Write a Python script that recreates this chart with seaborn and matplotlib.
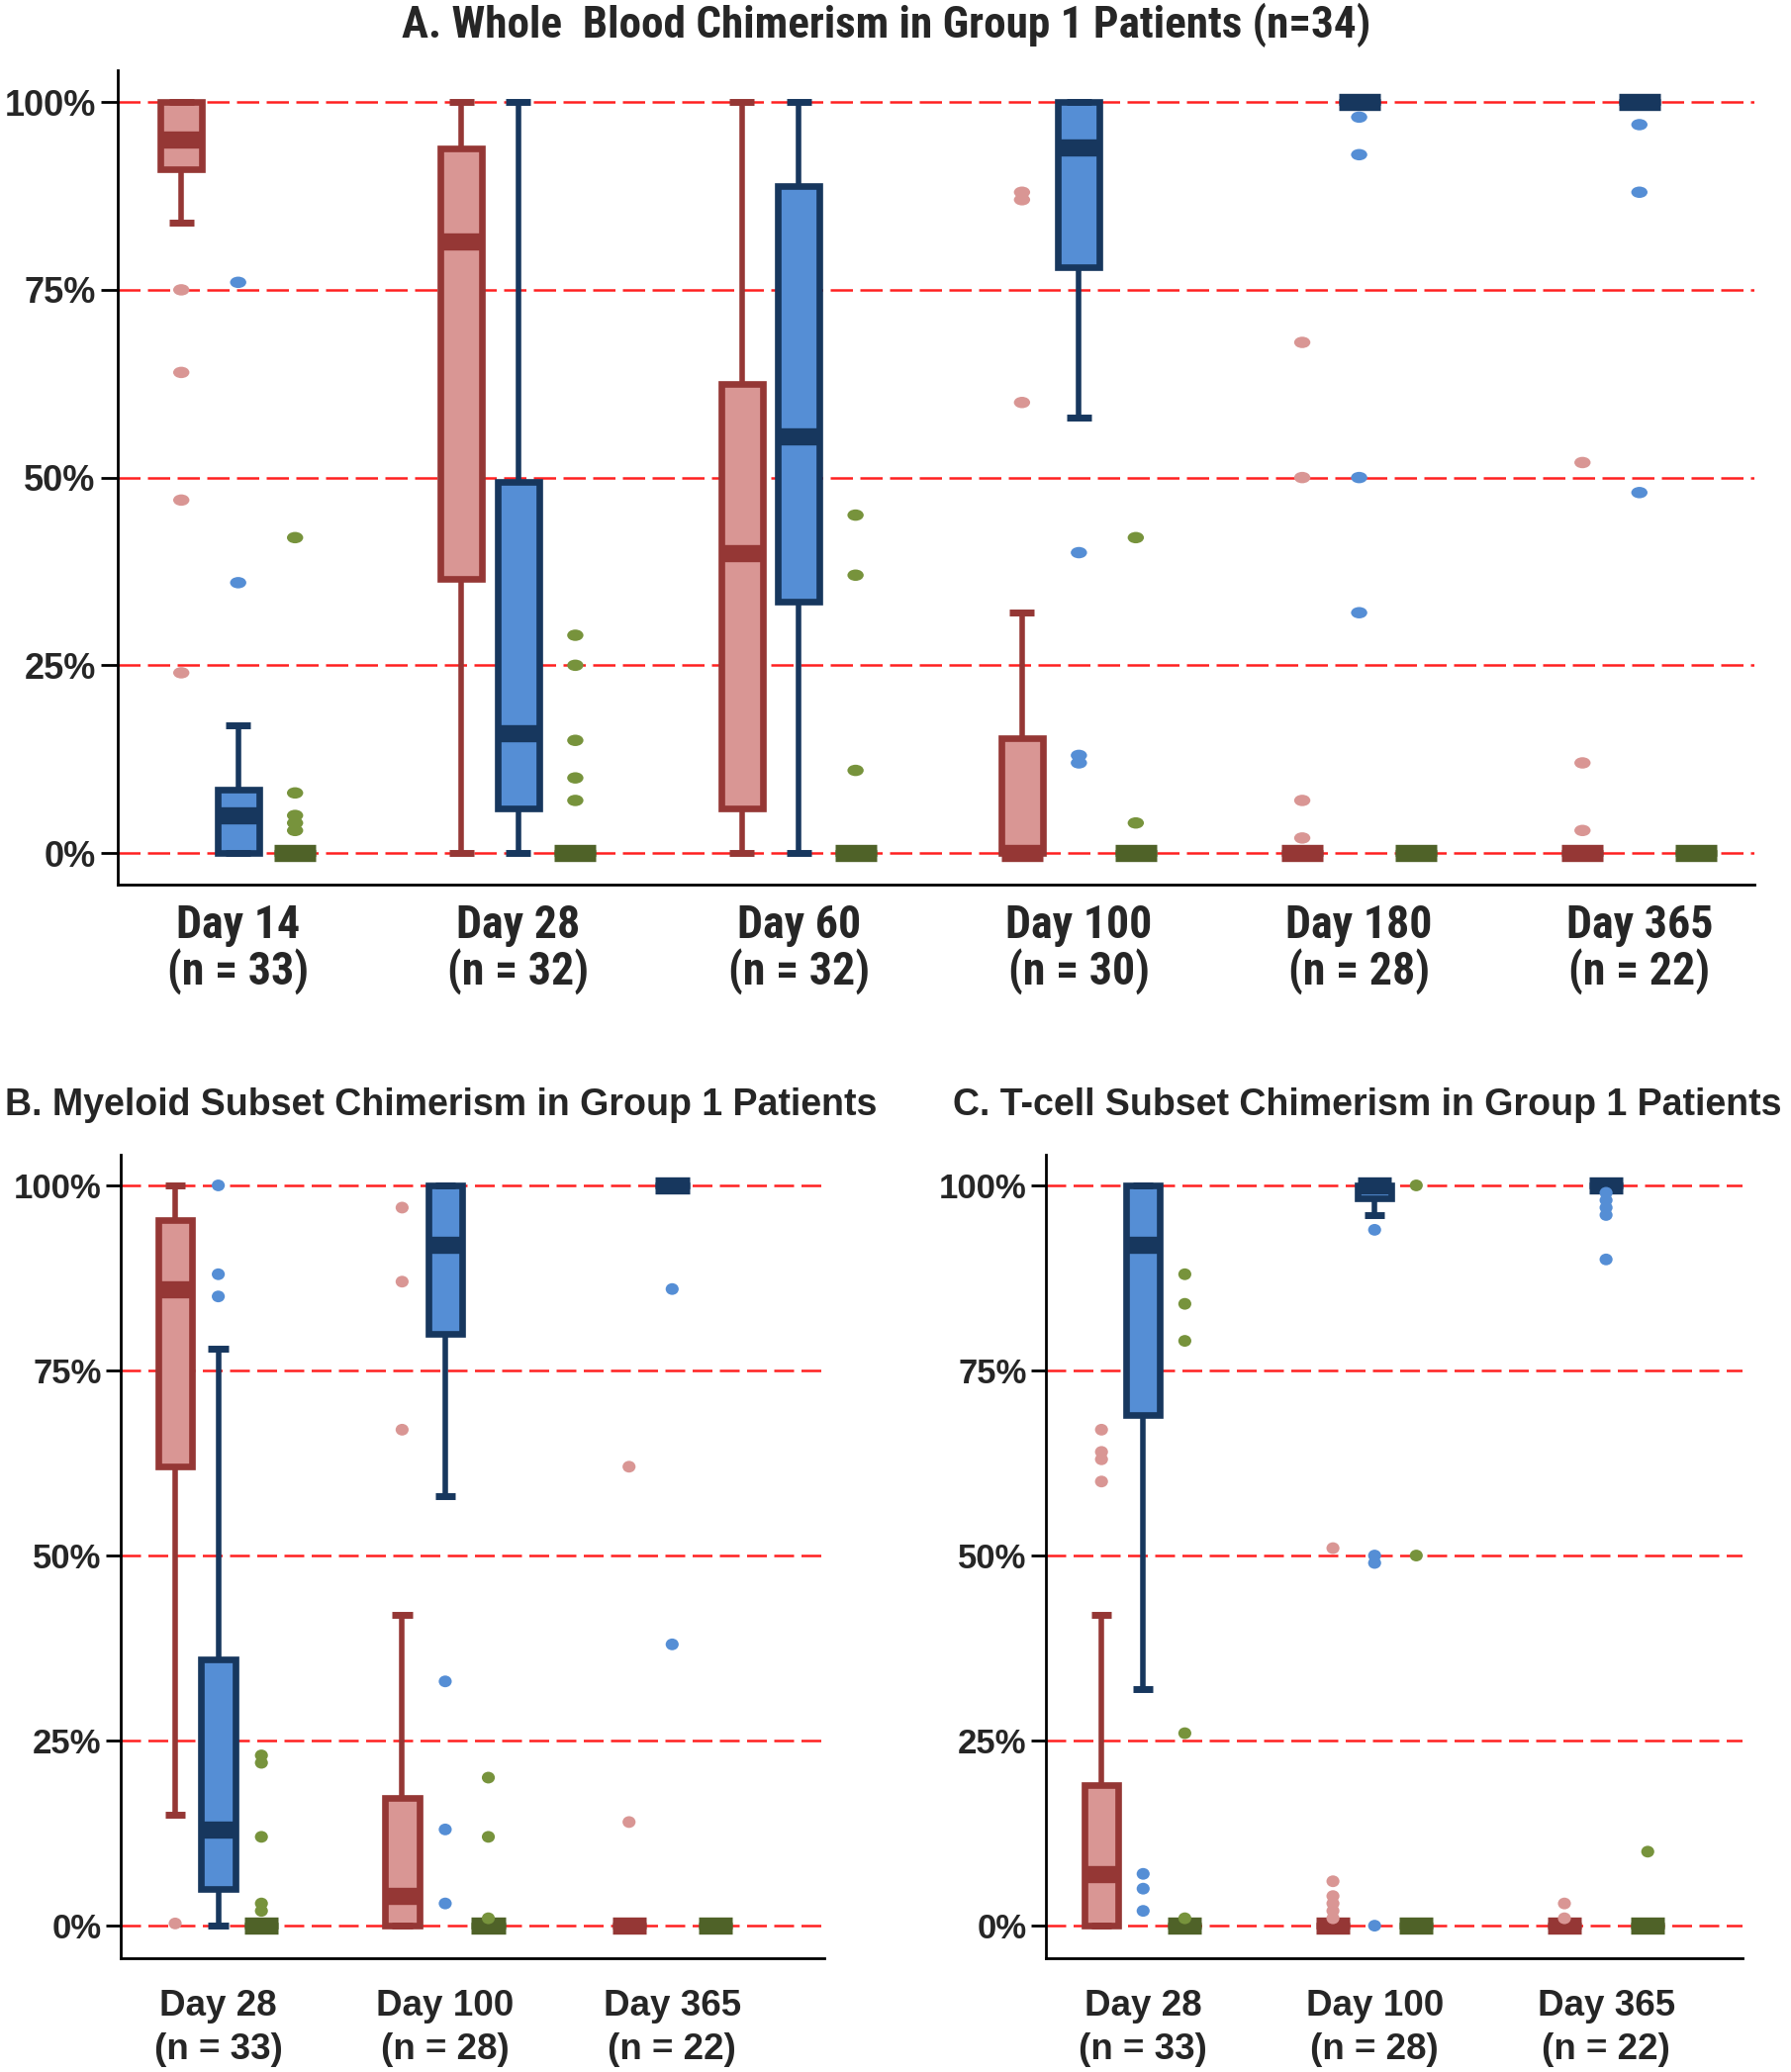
import numpy as np
import pandas as pd
import seaborn as sns
import matplotlib.pyplot as plt
from matplotlib.path import Path
from matplotlib.markers import MarkerStyle
from matplotlib.transforms import Affine2D

# values in percent; each box = [whisker low, q1, median, q3, whisker high]
a_days = ["Day 14\n(n = 33)", "Day 28\n(n = 32)", "Day 60\n(n = 32)",
          "Day 100\n(n = 30)", "Day 180\n(n = 28)", "Day 365\n(n = 22)"]
a_red_box = [[84, 91, 95, 100, 100], [0, 36.5, 81.5, 93.8, 100], [0, 6, 40, 62.5, 100],
             [0, 0, 0, 15.3, 32], [0, 0, 0, 0, 0], [0, 0, 0, 0, 0]]
a_red_out = [[75, 64, 47, 24], [], [], [88, 87, 60], [68, 50, 7, 2], [52, 12, 3]]
a_blue_box = [[0, 0, 5, 8.4, 17], [0, 6, 16, 49.4, 100], [0, 33.5, 55.5, 88.8, 100],
              [58, 78, 94, 100, 100], [100, 100, 100, 100, 100], [100, 100, 100, 100, 100]]
a_blue_out = [[76, 36], [], [], [40, 13, 12], [98, 93, 50, 32], [97, 88, 48]]
a_green_box = [[0, 0, 0, 0, 0], [0, 0, 0, 0, 0], [0, 0, 0, 0, 0],
               [0, 0, 0, 0, 0], [0, 0, 0, 0, 0], [0, 0, 0, 0, 0]]
a_green_out = [[42, 8, 5, 4, 3], [29, 25, 15, 10, 7], [45, 37, 11], [42, 4], [], []]

b_days = ["Day 28\n(n = 33)", "Day 100\n(n = 28)", "Day 365\n(n = 22)"]
b_red_box = [[15, 62, 86, 95.3, 100], [0, 0, 4, 17.2, 42], [0, 0, 0, 0, 0]]
b_red_out = [[0.3], [97, 87, 67], [62, 14]]
b_blue_box = [[0, 5, 13, 36, 78], [58, 80, 92, 100, 100], [100, 100, 100, 100, 100]]
b_blue_out = [[100, 88, 85], [33, 13, 3], [86, 38]]
b_green_box = [[0, 0, 0, 0, 0], [0, 0, 0, 0, 0], [0, 0, 0, 0, 0]]
b_green_out = [[23, 22, 12, 3, 2], [20, 12, 1], []]

c_days = ["Day 28\n(n = 33)", "Day 100\n(n = 28)", "Day 365\n(n = 22)"]
c_red_box = [[0, 0, 7, 19, 42], [0, 0, 0, 0, 0], [0, 0, 0, 0, 0]]
c_red_out = [[67, 64, 63, 60], [51, 6, 4, 3, 2, 1], [3, 1]]
c_blue_box = [[32, 69, 92, 100, 100], [96, 98.3, 100, 100, 100], [100, 100, 100, 100, 100]]
c_blue_out = [[7, 5, 2], [94, 50, 49, 0], [99, 98, 97, 96, 90]]
c_green_box = [[0, 0, 0, 0, 0], [0, 0, 0, 0, 0], [0, 0, 0, 0, 0]]
c_green_out = [[88, 84, 79, 26, 1], [100, 50], [10]]

y_ticks = [0, 25, 50, 75, 100]
y_labels = ["0%", "25%", "50%", "75%", "100%"]

# (fill, edge, dot)
red = ("#D99694", "#953735", "#D99694")
blue = ("#558ED5", "#17375E", "#558ED5")
green = ("#4F6228", "#4F6228", "#77933C")

sns.set_style("white")
plt.rcParams["font.family"] = ["Liberation Sans", "DejaVu Sans"]
narrow = ["Roboto Condensed", "Liberation Sans"]


def dot_marker(ratio):
    return MarkerStyle(Path.unit_circle().transformed(Affine2D().scale(1, ratio)))


def draw_panel(ax, days, series, width, offset, dot_size, dot_ratio, xfont, xsize, ysize,
               xlim, ylim, tick_len, tick_pad, xpad, dash, spacing):
    for k, (box, out, col) in enumerate(series):
        face, edge, dot = col
        pos = np.arange(len(days)) + (k - 1) * offset
        stats = [dict(whislo=b[0], q1=b[1], med=b[2], q3=b[3], whishi=b[4]) for b in box]
        ax.bxp(stats, positions=pos, widths=width, capwidths=width * 0.6,
               showfliers=False, patch_artist=True, manage_ticks=False, zorder=3,
               boxprops=dict(facecolor=face, edgecolor=edge, linewidth=4.8),
               medianprops=dict(color=edge, linewidth=12.5, solid_capstyle="butt"),
               whiskerprops=dict(color=edge, linewidth=4, solid_capstyle="butt"),
               capprops=dict(color=edge, linewidth=5, solid_capstyle="butt"))
        df = pd.DataFrame([(p, v) for p, vals in zip(pos, out) for v in vals], columns=["x", "y"])
        if len(df):
            sns.scatterplot(data=df, x="x", y="y", color=dot, marker=dot_marker(dot_ratio),
                            s=dot_size, linewidth=0, edgecolor="none", ax=ax, zorder=4,
                            legend=False)
    ax.set(xlabel="", ylabel="")
    ax.set_xlim(*xlim)
    ax.set_ylim(*ylim)
    ax.set_xticks(np.arange(len(days)))
    ax.set_xticklabels(days, fontsize=xsize, fontweight="bold", family=xfont,
                       linespacing=spacing)
    ax.set_yticks(y_ticks)
    ax.set_yticklabels(y_labels, fontsize=ysize, fontweight="bold", family="Liberation Sans")
    ax.tick_params(axis="y", length=tick_len, width=2, color="black", direction="out",
                   pad=tick_pad, left=True)
    ax.tick_params(axis="x", length=0, pad=xpad)
    ax.grid(axis="y", color="#FF2020", linestyle=(0, dash), linewidth=1.8, zorder=1)
    ax.grid(axis="x", visible=False)
    ax.set_axisbelow(True)
    for s in ["top", "right"]:
        ax.spines[s].set_visible(False)
    for s in ["left", "bottom"]:
        ax.spines[s].set_color("black")
        ax.spines[s].set_linewidth(2)


fig = plt.figure(figsize=(18.1, 20.94), dpi=100)

ax_a = fig.add_axes([0.0657, 0.5731, 0.9138, 0.3932])
draw_panel(ax_a, a_days,
           [(a_red_box, a_red_out, red), (a_blue_box, a_blue_out, blue),
            (a_green_box, a_green_out, green)],
           width=0.148, offset=0.203, dot_size=140, dot_ratio=0.7,
           xfont=narrow, xsize=33, ysize=26, xlim=(-0.43, 5.41), ylim=(-4.2, 104.3),
           tick_len=12, tick_pad=4, xpad=13.5, dash=(9, 3), spacing=1.04)

ax_b = fig.add_axes([0.0674, 0.0549, 0.3928, 0.388])
draw_panel(ax_b, b_days,
           [(b_red_box, b_red_out, red), (b_blue_box, b_blue_out, blue),
            (b_green_box, b_green_out, green)],
           width=0.15, offset=0.19, dot_size=90, dot_ratio=0.9,
           xfont="Liberation Sans", xsize=26.5, ysize=25, xlim=(-0.43, 2.67),
           ylim=(-4.4, 104.2), tick_len=11, tick_pad=3, xpad=22, dash=(8, 3), spacing=1.35)

ax_c = fig.add_axes([0.584, 0.0549, 0.389, 0.388])
draw_panel(ax_c, c_days,
           [(c_red_box, c_red_out, red), (c_blue_box, c_blue_out, blue),
            (c_green_box, c_green_out, green)],
           width=0.145, offset=0.18, dot_size=90, dot_ratio=0.9,
           xfont="Liberation Sans", xsize=26.5, ysize=25, xlim=(-0.42, 2.59),
           ylim=(-4.4, 104.2), tick_len=11, tick_pad=3, xpad=22, dash=(8, 3), spacing=1.35)

fig.text(896 / 1810, 1 - 38 / 2094, "A. Whole  Blood Chimerism in Group 1 Patients (n=34)",
         ha="center", va="baseline", fontsize=32.5, fontweight="bold", family=narrow)
fig.text(5 / 1810, 1 - 1127 / 2094, "B. Myeloid Subset Chimerism in Group 1 Patients",
         ha="left", va="baseline", fontsize=27, fontweight="bold")
fig.text(963 / 1810, 1 - 1127 / 2094, "C. T-cell Subset Chimerism in Group 1 Patients",
         ha="left", va="baseline", fontsize=27, fontweight="bold")

fig.savefig("out.png", dpi=100, facecolor="white")
